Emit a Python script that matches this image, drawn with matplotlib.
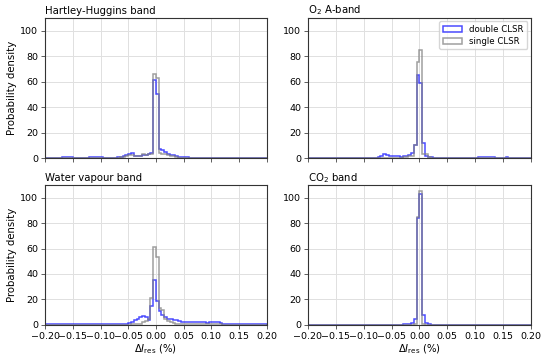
import matplotlib.pyplot as plt
from matplotlib.patches import Patch
import numpy as np

# bin edges: -0.2 .. 0.2 in steps of 0.005 (80 bins)
edges = np.linspace(-0.2, 0.2, 81)

titles = ['Hartley-Huggins band', r'O$_2$ A-band', 'Water vapour band', r'CO$_2$ band']

# probability density per bin
hh_double = [0.2, 0.2, 0.3, 0.3, 0.3, 0.5, 0.8, 1.0, 0.8, 0.8,
             0.5, 0.3, 0.3, 0.3, 0.3, 0.5, 0.8, 1.0, 1.0, 0.8,
             0.8, 0.5, 0.3, 0.3, 0.3, 0.5, 0.8, 1.2, 1.5, 2.5,
             3.5, 3.8, 2.0, 1.5, 1.5, 2.5, 2.5, 3.5, 4.0, 61.0,
             50.0, 7.5, 6.0, 4.5, 3.5, 2.5, 2.5, 1.5, 1.0, 0.8,
             0.8, 0.6, 0.5, 0.3, 0.2, 0.1, 0.1, 0.1, 0.1, 0.1,
             0.1, 0.1, 0.1, 0.1, 0.2, 0.3, 0.3, 0.3, 0.3, 0.2,
             0.1, 0.1, 0.1, 0.1, 0.1, 0.1, 0.1, 0.1, 0.1, 0.1]
hh_single = [0.1, 0.1, 0.1, 0.1, 0.1, 0.1, 0.1, 0.1, 0.1, 0.1,
             0.1, 0.1, 0.1, 0.1, 0.1, 0.1, 0.1, 0.1, 0.1, 0.1,
             0.1, 0.1, 0.1, 0.1, 0.1, 0.1, 0.5, 0.8, 1.0, 1.5,
             2.5, 2.5, 1.5, 1.5, 1.5, 3.0, 2.8, 3.5, 3.5, 66.0,
             63.0, 4.0, 3.5, 3.0, 2.5, 2.0, 1.5, 1.0, 0.5, 0.5,
             0.3, 0.1, 0.1, 0.1, 0.1, 0.1, 0.1, 0.1, 0.1, 0.1,
             0.1, 0.1, 0.1, 0.1, 0.1, 0.1, 0.1, 0.1, 0.1, 0.1,
             0.1, 0.1, 0.1, 0.1, 0.1, 0.1, 0.1, 0.1, 0.1, 0.1]

o2_double = [0.0, 0.0, 0.0, 0.0, 0.0, 0.0, 0.0, 0.0, 0.0, 0.0,
             0.0, 0.0, 0.0, 0.0, 0.0, 0.0, 0.0, 0.0, 0.0, 0.0,
             0.2, 0.2, 0.2, 0.3, 0.5, 1.0, 2.0, 3.0, 2.5, 2.0,
             1.5, 1.5, 1.5, 1.2, 1.5, 2.0, 2.5, 4.0, 10.0, 65.0,
             59.0, 12.0, 2.0, 1.0, 0.8, 0.5, 0.5, 0.5, 0.5, 0.5,
             0.5, 0.5, 0.5, 0.5, 0.5, 0.5, 0.5, 0.5, 0.5, 0.5,
             0.5, 0.6, 0.6, 0.6, 0.6, 0.6, 0.6, 0.5, 0.5, 0.5,
             0.5, 0.6, 0.5, 0.3, 0.2, 0.2, 0.2, 0.2, 0.2, 0.2]
o2_single = [0.0, 0.0, 0.0, 0.0, 0.0, 0.0, 0.0, 0.0, 0.0, 0.0,
             0.0, 0.0, 0.0, 0.0, 0.0, 0.0, 0.0, 0.0, 0.0, 0.0,
             0.1, 0.1, 0.1, 0.1, 0.2, 0.3, 0.5, 0.5, 0.5, 0.5,
             0.5, 0.5, 0.5, 0.5, 0.8, 1.0, 1.5, 2.0, 10.0, 75.0,
             85.0, 3.0, 3.5, 1.0, 0.5, 0.3, 0.2, 0.1, 0.1, 0.1,
             0.1, 0.1, 0.1, 0.1, 0.1, 0.1, 0.1, 0.1, 0.1, 0.1,
             0.1, 0.1, 0.1, 0.1, 0.1, 0.1, 0.1, 0.1, 0.1, 0.1,
             0.1, 0.1, 0.1, 0.1, 0.1, 0.1, 0.1, 0.1, 0.1, 0.1]

wv_double = [0.3, 0.3, 0.3, 0.3, 0.3, 0.3, 0.3, 0.3, 0.3, 0.3,
             0.3, 0.3, 0.3, 0.3, 0.3, 0.3, 0.3, 0.3, 0.3, 0.3,
             0.3, 0.3, 0.3, 0.3, 0.3, 0.5, 0.5, 0.5, 0.8, 1.0,
             1.5, 2.5, 3.5, 5.0, 6.0, 7.0, 6.0, 4.0, 15.0, 35.0,
             19.0, 11.0, 8.0, 6.0, 5.0, 4.5, 4.0, 3.5, 3.0, 2.5,
             2.5, 2.5, 2.3, 2.2, 2.2, 2.0, 2.0, 2.0, 1.8, 2.5,
             2.5, 2.5, 2.3, 1.5, 1.0, 0.6, 0.6, 0.6, 0.6, 0.6,
             0.6, 0.6, 0.6, 0.6, 0.6, 0.6, 0.6, 0.6, 0.6, 0.6]
wv_single = [0.1, 0.1, 0.1, 0.1, 0.1, 0.1, 0.1, 0.1, 0.1, 0.1,
             0.1, 0.1, 0.1, 0.1, 0.1, 0.1, 0.1, 0.1, 0.1, 0.1,
             0.1, 0.1, 0.1, 0.1, 0.1, 0.1, 0.1, 0.1, 0.1, 0.1,
             0.1, 0.5, 0.5, 0.5, 1.0, 2.0, 3.0, 5.0, 21.0, 61.0,
             53.0, 13.0, 12.0, 5.0, 3.0, 2.0, 1.5, 1.0, 0.8, 0.5,
             0.5, 0.5, 0.5, 0.5, 0.5, 0.5, 0.3, 0.3, 0.3, 0.5,
             0.5, 0.5, 0.3, 0.3, 0.1, 0.1, 0.1, 0.1, 0.1, 0.1,
             0.1, 0.1, 0.1, 0.1, 0.1, 0.1, 0.1, 0.1, 0.1, 0.1]

co2_double = [0.0] * 28 + [0.2, 0.2, 0.2, 0.2, 0.2, 0.2, 0.5, 0.5, 0.8, 1.5,
                           5.0, 84.0, 103.0, 8.0, 1.5, 0.3] + [0.0] * 36
co2_single = [0.0] * 37 + [0.2, 0.5, 85.0, 105.0, 0.8] + [0.0] * 38

doubles = [hh_double, o2_double, wv_double, co2_double]
singles = [hh_single, o2_single, wv_single, co2_single]

fs = 7.3
blue = (0.0, 0.0, 1.0, 0.7)
grey = (0.5, 0.5, 0.5, 0.75)

fig = plt.figure(figsize=(5.5, 3.57), dpi=100)
boxes = [[0.082, 0.557, 0.403, 0.393], [0.56, 0.557, 0.405, 0.393],
         [0.082, 0.09, 0.403, 0.392], [0.56, 0.09, 0.405, 0.392]]

for i in range(4):
    ax = fig.add_axes(boxes[i])
    ax.grid(True, color='#e0e0e0', linewidth=0.7)
    ax.set_axisbelow(True)
    ax.stairs(doubles[i], edges, color=blue, linewidth=1.1)
    ax.stairs(singles[i], edges, color=grey, linewidth=1.1)
    ax.set_xlim(-0.2, 0.2)
    ax.set_ylim(0, 110)
    ax.set_xticks(np.linspace(-0.2, 0.2, 9))
    ax.set_yticks([0, 20, 40, 60, 80, 100])
    ax.tick_params(labelsize=6.8, length=3, width=0.6, color='#444444', pad=2)
    for s in ax.spines.values():
        s.set_color('#333333')
        s.set_linewidth(0.8)
    ax.set_title(titles[i], loc='left', fontsize=fs, pad=3)
    if i < 2:
        ax.tick_params(labelbottom=False)
    else:
        ax.set_xlabel(r'$\Delta I_{\mathrm{res}}$ (%)', fontsize=fs, labelpad=1)
    if i % 2 == 0:
        ax.set_ylabel('Probability density', fontsize=fs, labelpad=2)
    if i == 1:
        handles = [Patch(facecolor='none', edgecolor=blue, linewidth=1.1),
                   Patch(facecolor='none', edgecolor=grey, linewidth=1.1)]
        ax.legend(handles, ['double CLSR', 'single CLSR'], loc='upper right',
                  fontsize=6.2, handlelength=2.3, borderaxespad=0.4,
                  labelspacing=0.35)

plt.savefig('out.png', dpi=100)
